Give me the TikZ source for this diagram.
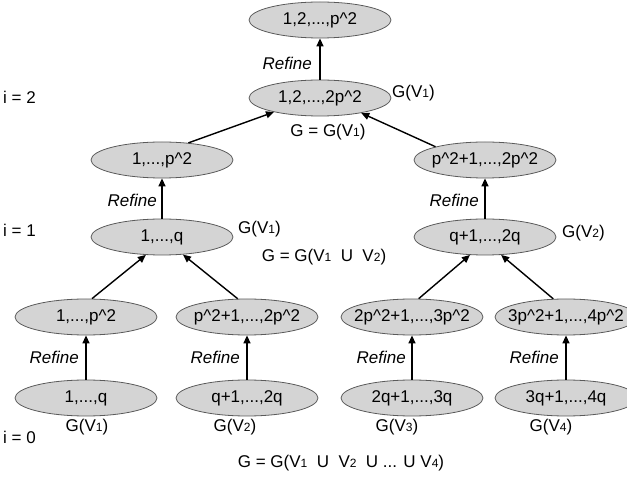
\documentclass[tikz,border=0pt]{standalone}
\usepackage{fontspec}
\setmainfont{Liberation Sans}
\usetikzlibrary{arrows.meta,shapes.geometric}
\definecolor{nodefill}{RGB}{212,212,212}
\definecolor{nodeline}{RGB}{90,90,90}
\newcommand{\sbs}[1]{\raisebox{-0.5pt}{\fontsize{12}{12}\selectfont #1}}
\newcommand{\ctr}[1]{\makebox[0pt]{#1}}
\newcommand{\psq}{p\textasciicircum2}
\begin{document}
\begin{tikzpicture}[x=1pt,y=-1pt,
  setnode/.style={ellipse, draw=nodeline, line width=0.8pt, fill=nodefill,
    minimum width=142pt, minimum height=36pt, inner sep=0pt,
    font=\fontsize{17}{17}\selectfont},
  lbl/.style={inner sep=0pt, font=\fontsize{17}{17}\selectfont},
  reflbl/.style={inner sep=0pt, anchor=east, font=\fontsize{17}{17}\selectfont\itshape},
  arr/.style={line width=1.4pt, -{Triangle[length=8pt,width=7pt]}}]
\clip (0,0) rectangle (627,478);
% level 2
\node[setnode] (t1) at (320,20) {\ctr{1,2,...,\psq}};
\node[setnode] (t2) at (320,98) {\ctr{1,2,...,2\psq}};
% level 1
\node[setnode] (la) at (162,160) {\ctr{1,...,\psq}};
\node[setnode] (lb) at (162,237) {\ctr{1,...,q}};
\node[setnode] (ra) at (485,160) {\ctr{\psq+1,...,2\psq}};
\node[setnode] (rb) at (485,237) {\ctr{q+1,...,2q}};
% level 0
\node[setnode] (a1) at (86,317) {\ctr{1,...,\psq}};
\node[setnode] (a0) at (86,398) {\ctr{1,...,q}};
\node[setnode] (b1) at (247,317) {\ctr{\psq+1,...,2\psq}};
\node[setnode] (b0) at (247,398) {\ctr{q+1,...,2q}};
\node[setnode] (c1) at (412,317) {\ctr{2\psq+1,...,3\psq}};
\node[setnode] (c0) at (412,398) {\ctr{2q+1,...,3q}};
\node[setnode] (d1) at (566,317) {\ctr{3\psq+1,...,4\psq}};
\node[setnode] (d0) at (566,398) {\ctr{3q+1,...,4q}};
% level labels
\node[lbl, anchor=west] (i2) at (3,97) {i = 2};
\node[lbl, anchor=west] (i1) at (3,230) {i = 1};
\node[lbl, anchor=west] (i0) at (3,437) {i = 0};
% graph labels
\node[lbl, anchor=west] (g2) at (392,93) {G(V\sbs{1})};
\node[lbl] (e2) at (328,132) {G = G(V\sbs{1})};
\node[lbl, anchor=west] (gl) at (238,229) {G(V\sbs{1})};
\node[lbl, anchor=west] (gr) at (562,233) {G(V\sbs{2})};
\node[lbl] (e1) at (324,257) {G = G(V\sbs{1}\ \ U\ \ V\sbs{2})};
\node[lbl] (ga) at (87,427) {G(V\sbs{1})};
\node[lbl] (gb) at (235,427) {G(V\sbs{2})};
\node[lbl] (gc) at (397,427) {G(V\sbs{3})};
\node[lbl] (gd) at (551,427) {G(V\sbs{4})};
\node[lbl] (e0) at (341,463) {G = G(V\sbs{1}\ \ U\ \ V\sbs{2}\ \ U ... U V\sbs{4})};
% refine labels
\node[reflbl] (r2) at (312,63) {Refine};
\node[reflbl] (r1l) at (157,200) {Refine};
\node[reflbl] (r1r) at (479,200) {Refine};
\node[reflbl] (r0a) at (79,357) {Refine};
\node[reflbl] (r0b) at (240,357) {Refine};
\node[reflbl] (r0c) at (406,357) {Refine};
\node[reflbl] (r0d) at (559,357) {Refine};
% refine arrows
\draw[arr] (t2.north) -- (t1.south);
\draw[arr] (lb.north) -- (la.south);
\draw[arr] (rb.north) -- (ra.south);
\draw[arr] (a0.north) -- (a1.south);
\draw[arr] (b0.north) -- (b1.south);
\draw[arr] (c0.north) -- (c1.south);
\draw[arr] (d0.north) -- (d1.south);
% merge arrows
\draw[arr] (la.33) -- (t2.197);
\draw[arr] (ra.165) -- (t2.340);
\draw[arr] (a1.72) -- (lb.228);
\draw[arr] (b1.117) -- (lb.320);
\draw[arr] (c1.70) -- (rb.230);
\draw[arr] (d1.125) -- (rb.312);
\end{tikzpicture}
\end{document}
